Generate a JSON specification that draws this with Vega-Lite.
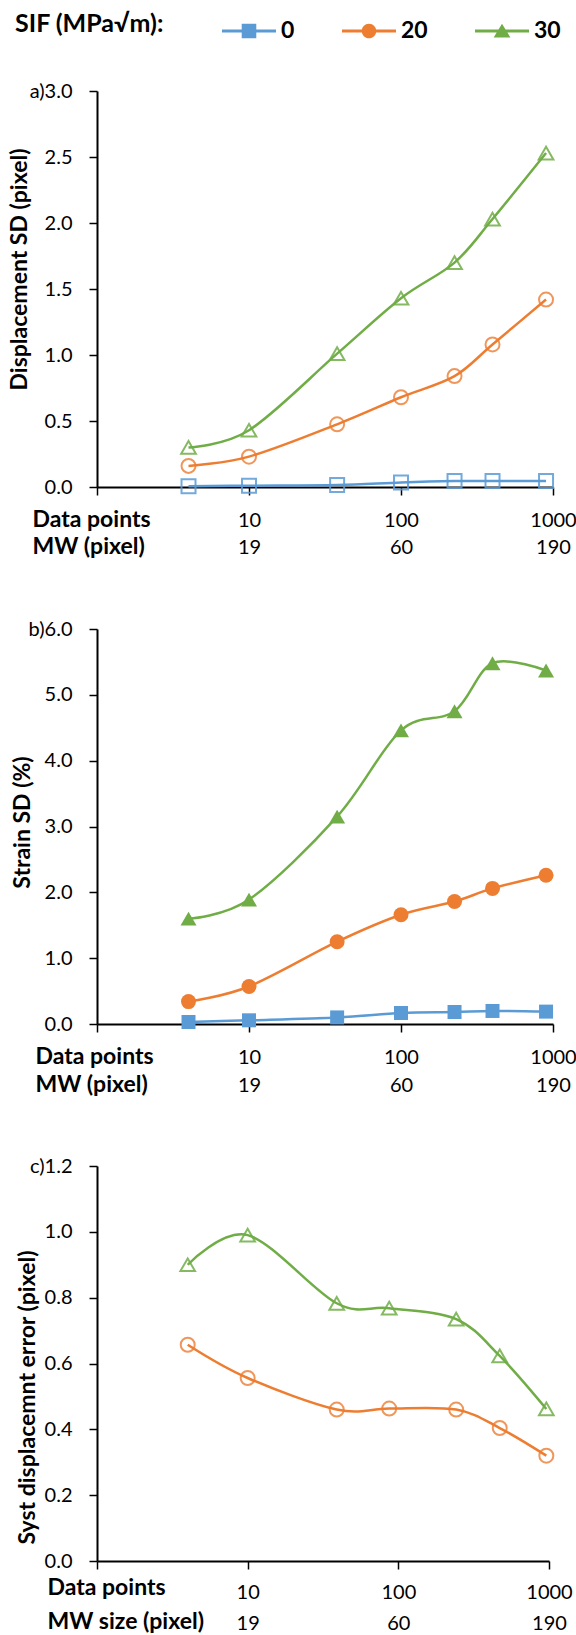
{
  "$schema": "https://vega.github.io/schema/vega-lite/v6.json",
  "background": "white",
  "padding": {"left": 8, "top": 4, "right": 0, "bottom": 0},
  "config": {
    "font": "Lato",
    "view": {"stroke": null},
    "axis": {
      "grid": false,
      "domainColor": "black",
      "domainWidth": 2,
      "tickColor": "black",
      "tickWidth": 1.5,
      "tickSize": 8,
      "labelFont": "Lato",
      "labelFontSize": 20,
      "labelColor": "black",
      "labelOverlap": false,
      "labelFlush": false,
      "titleFont": "Lato",
      "titleFontSize": 23,
      "titleFontWeight": "bold",
      "titleColor": "black"
    },
    "legend": {
      "titleFont": "Lato",
      "titleFontSize": 25,
      "titleFontWeight": "bold",
      "titleColor": "black",
      "labelFont": "Lato",
      "labelFontSize": 23,
      "labelFontWeight": "bold",
      "labelColor": "black"
    }
  },
  "datasets": {
    "a": [
      {"n": 4, "sif": "30", "v": 0.30}, {"n": 10, "sif": "30", "v": 0.43}, {"n": 38, "sif": "30", "v": 1.01}, {"n": 100, "sif": "30", "v": 1.43}, {"n": 225, "sif": "30", "v": 1.70}, {"n": 400, "sif": "30", "v": 2.03}, {"n": 900, "sif": "30", "v": 2.53},
      {"n": 4, "sif": "20", "v": 0.16}, {"n": 10, "sif": "20", "v": 0.23}, {"n": 38, "sif": "20", "v": 0.475}, {"n": 100, "sif": "20", "v": 0.68}, {"n": 225, "sif": "20", "v": 0.84}, {"n": 400, "sif": "20", "v": 1.08}, {"n": 900, "sif": "20", "v": 1.42},
      {"n": 4, "sif": "0", "v": 0.005}, {"n": 10, "sif": "0", "v": 0.01}, {"n": 38, "sif": "0", "v": 0.015}, {"n": 100, "sif": "0", "v": 0.035}, {"n": 225, "sif": "0", "v": 0.045}, {"n": 400, "sif": "0", "v": 0.045}, {"n": 900, "sif": "0", "v": 0.045}
    ],
    "b": [
      {"n": 4, "sif": "30", "v": 1.6}, {"n": 10, "sif": "30", "v": 1.89}, {"n": 38, "sif": "30", "v": 3.15}, {"n": 100, "sif": "30", "v": 4.46}, {"n": 225, "sif": "30", "v": 4.75}, {"n": 400, "sif": "30", "v": 5.48}, {"n": 900, "sif": "30", "v": 5.37},
      {"n": 4, "sif": "20", "v": 0.34}, {"n": 10, "sif": "20", "v": 0.57}, {"n": 38, "sif": "20", "v": 1.25}, {"n": 100, "sif": "20", "v": 1.66}, {"n": 225, "sif": "20", "v": 1.86}, {"n": 400, "sif": "20", "v": 2.06}, {"n": 900, "sif": "20", "v": 2.26},
      {"n": 4, "sif": "0", "v": 0.03}, {"n": 10, "sif": "0", "v": 0.056}, {"n": 38, "sif": "0", "v": 0.10}, {"n": 100, "sif": "0", "v": 0.167}, {"n": 225, "sif": "0", "v": 0.182}, {"n": 400, "sif": "0", "v": 0.198}, {"n": 900, "sif": "0", "v": 0.188}
    ],
    "c": [
      {"n": 4, "sif": "30", "v": 0.90}, {"n": 10, "sif": "30", "v": 0.99}, {"n": 39, "sif": "30", "v": 0.783}, {"n": 87, "sif": "30", "v": 0.768}, {"n": 242, "sif": "30", "v": 0.735}, {"n": 471, "sif": "30", "v": 0.623}, {"n": 960, "sif": "30", "v": 0.462},
      {"n": 4, "sif": "20", "v": 0.657}, {"n": 10, "sif": "20", "v": 0.556}, {"n": 39, "sif": "20", "v": 0.46}, {"n": 87, "sif": "20", "v": 0.463}, {"n": 242, "sif": "20", "v": 0.46}, {"n": 471, "sif": "20", "v": 0.404}, {"n": 960, "sif": "20", "v": 0.32}
    ]
  },
  "bounds": "flush",
  "spacing": 142,
  "resolve": {"scale": {"x": "independent", "y": "independent"}},
  "vconcat": [
    {
      "width": 456,
      "height": 396,
      "data": {"name": "a"},
      "encoding": {
        "x": {
          "field": "n", "type": "quantitative",
          "scale": {"type": "log", "domain": [1, 1000]},
          "axis": {
            "values": [1, 10, 100, 1000],
            "labelExpr": "datum.value==10?['10','19']:datum.value==100?['100','60']:datum.value==1000?['1000','190']:''",
            "labelBaseline": "alphabetic",
            "labelPadding": 31,
            "labelLineHeight": 27.6,
            "title": ["Data points", "MW (pixel)"],
            "titleAlign": "left",
            "titleBaseline": "alphabetic",
            "titleLineHeight": 27.6,
            "titleX": -65,
            "titleY": 39
          }
        },
        "y": {
          "field": "v", "type": "quantitative",
          "scale": {"domain": [0, 3], "nice": false},
          "axis": {
            "values": [0, 0.5, 1, 1.5, 2, 2.5, 3],
            "format": ".1f",
            "labelExpr": "datum.value==3?'a)'+datum.label:datum.label",
            "labelPadding": 17,
            "title": "Displacement SD (pixel)",
            "titleAlign": "center",
            "titleBaseline": "middle",
            "titleX": -78,
            "titleY": 178
          }
        }
      },
      "layer": [
        {
          "mark": {"type": "line", "interpolate": "cardinal", "strokeWidth": 2.5},
          "encoding": {
            "stroke": {
              "field": "sif", "type": "nominal",
              "scale": {"domain": ["0", "20", "30"], "range": ["#5B9BD5", "#ED7D31", "#70AD47"]},
              "legend": {
                "title": "SIF (MPa√m):",
                "orient": "none", "legendX": -82, "legendY": -87,
                "direction": "horizontal", "titleOrient": "left", "titlePadding": 58,
                "labelOffset": 5, "columnPadding": 47, "symbolSize": 2916,
                "encode": {
                  "symbols": {
                    "update": {
                      "shape": {"signal": "datum.value=='0'?'M-1,-0.052H1V0.052H-1Z M-0.27,-0.27H0.27V0.27H-0.27Z':datum.value=='20'?'M-1,-0.052H1V0.052H-1Z M0.27,0A0.27,0.27,0,1,1,-0.27,0A0.27,0.27,0,1,1,0.27,0Z':'M-1,-0.052H1V0.052H-1Z M0,-0.27L0.31,0.24H-0.31Z'"},
                      "fill": {"signal": "datum.value=='0'?'#5B9BD5':datum.value=='20'?'#ED7D31':'#70AD47'"},
                      "strokeWidth": {"value": 0},
                      "size": {"value": 2916},
                      "opacity": {"value": 1}
                    }
                  }
                }
              }
            }
          }
        },
        {"transform": [{"filter": "datum.sif=='0'"}], "mark": {"type": "point", "shape": "square", "filled": false, "color": "#5B9BD5", "strokeWidth": 2, "size": 196, "opacity": 0.85}},
        {"transform": [{"filter": "datum.sif=='20'"}], "mark": {"type": "point", "shape": "circle", "filled": false, "color": "#ED7D31", "strokeWidth": 2, "size": 196, "opacity": 0.8}},
        {"transform": [{"filter": "datum.sif=='30'"}], "mark": {"type": "point", "shape": "triangle-up", "filled": false, "color": "#70AD47", "strokeWidth": 2, "size": 216, "opacity": 0.85}}
      ]
    },
    {
      "width": 456,
      "height": 395,
      "data": {"name": "b"},
      "encoding": {
        "x": {
          "field": "n", "type": "quantitative",
          "scale": {"type": "log", "domain": [1, 1000]},
          "axis": {
            "values": [1, 10, 100, 1000],
            "labelExpr": "datum.value==10?['10','19']:datum.value==100?['100','60']:datum.value==1000?['1000','190']:''",
            "labelBaseline": "alphabetic",
            "labelPadding": 31,
            "labelLineHeight": 28.4,
            "title": ["Data points", "MW (pixel)"],
            "titleAlign": "left",
            "titleBaseline": "alphabetic",
            "titleLineHeight": 28.4,
            "titleX": -62,
            "titleY": 39
          }
        },
        "y": {
          "field": "v", "type": "quantitative",
          "scale": {"domain": [0, 6], "nice": false},
          "axis": {
            "values": [0, 1, 2, 3, 4, 5, 6],
            "format": ".1f",
            "labelExpr": "datum.value==6?'b)'+datum.label:datum.label",
            "labelPadding": 17,
            "title": "Strain SD (%)",
            "titleAlign": "center",
            "titleBaseline": "middle",
            "titleX": -75,
            "titleY": 193
          }
        }
      },
      "layer": [
        {
          "mark": {"type": "line", "interpolate": "cardinal", "strokeWidth": 2.5},
          "encoding": {"stroke": {"field": "sif", "type": "nominal", "scale": {"domain": ["0", "20", "30"], "range": ["#5B9BD5", "#ED7D31", "#70AD47"]}, "legend": null}}
        },
        {"transform": [{"filter": "datum.sif=='0'"}], "mark": {"type": "point", "shape": "square", "filled": true, "color": "#5B9BD5", "size": 196, "opacity": 1}},
        {"transform": [{"filter": "datum.sif=='20'"}], "mark": {"type": "point", "shape": "circle", "filled": true, "color": "#ED7D31", "size": 225, "opacity": 1}},
        {"transform": [{"filter": "datum.sif=='30'"}], "mark": {"type": "point", "shape": "triangle-up", "filled": true, "color": "#70AD47", "size": 256, "opacity": 1}}
      ]
    },
    {
      "width": 452,
      "height": 395,
      "data": {"name": "c"},
      "encoding": {
        "x": {
          "field": "n", "type": "quantitative",
          "scale": {"type": "log", "domain": [1, 1000]},
          "axis": {
            "values": [1, 10, 100, 1000],
            "labelExpr": "datum.value==10?['10','19']:datum.value==100?['100','60']:datum.value==1000?['1000','190']:''",
            "labelBaseline": "alphabetic",
            "labelPadding": 29,
            "labelLineHeight": 31,
            "title": ["Data points", "MW size (pixel)"],
            "titleAlign": "left",
            "titleBaseline": "alphabetic",
            "titleLineHeight": 34,
            "titleX": -50,
            "titleY": 33
          }
        },
        "y": {
          "field": "v", "type": "quantitative",
          "scale": {"domain": [0, 1.2], "nice": false},
          "axis": {
            "values": [0, 0.2, 0.4, 0.6, 0.8, 1.0, 1.2],
            "format": ".1f",
            "labelExpr": "datum.value==1.2?'c)'+datum.label:datum.label",
            "labelPadding": 17,
            "title": "Syst displacemnt error (pixel)",
            "titleAlign": "center",
            "titleBaseline": "middle",
            "titleX": -70,
            "titleY": 231
          }
        }
      },
      "layer": [
        {
          "mark": {"type": "line", "interpolate": "cardinal", "strokeWidth": 2.5},
          "encoding": {"stroke": {"field": "sif", "type": "nominal", "scale": {"domain": ["0", "20", "30"], "range": ["#5B9BD5", "#ED7D31", "#70AD47"]}, "legend": null}}
        },
        {"transform": [{"filter": "datum.sif=='20'"}], "mark": {"type": "point", "shape": "circle", "filled": false, "color": "#ED7D31", "strokeWidth": 2, "size": 196, "opacity": 0.8}},
        {"transform": [{"filter": "datum.sif=='30'"}], "mark": {"type": "point", "shape": "triangle-up", "filled": false, "color": "#70AD47", "strokeWidth": 2, "size": 216, "opacity": 0.85}}
      ]
    }
  ]
}
